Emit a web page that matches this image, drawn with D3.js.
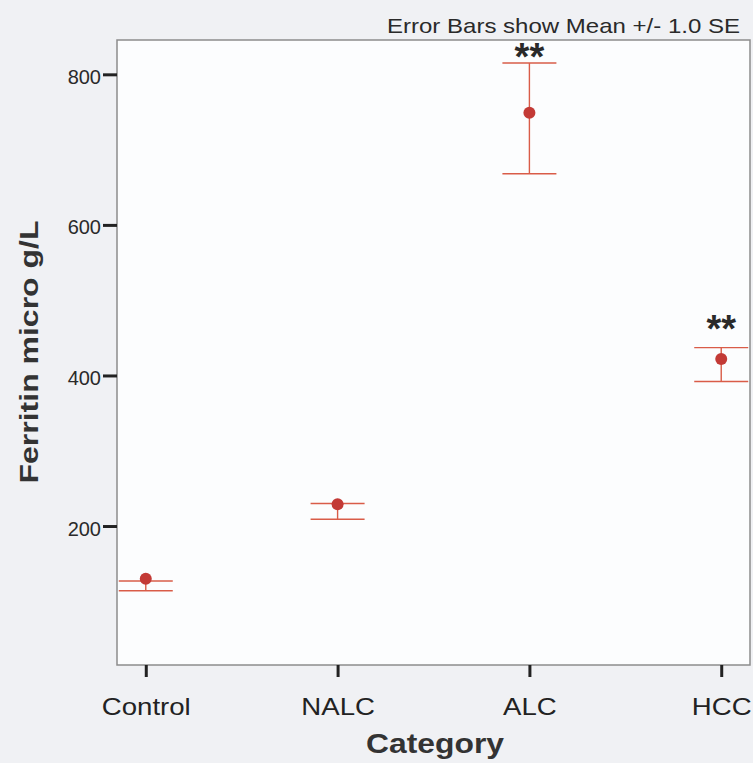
<!DOCTYPE html>
<html>
<head>
<meta charset="utf-8">
<script src="https://cdn.jsdelivr.net/npm/d3@7"></script>
<style>
  html, body { margin: 0; padding: 0; background: #f0f1f4; }
  svg { display: block; }
</style>
</head>
<body>
<svg id="chart" width="753" height="763"></svg>
<script>
// values
var categories = ["Control", "NALC", "ALC", "HCC"];
var means = [130, 229, 749, 422];
var upper = [127, 230, 815, 437];
var lower = [114, 209, 668, 392];
var marks = ["", "", "**", "**"];
var yTicks = [200, 400, 600, 800];

var svg = d3.select("#chart");
var W = 753, H = 763;
var margin = {top: 40, right: 3, bottom: 98, left: 117};
var width = W - margin.left - margin.right;
var height = H - margin.top - margin.bottom;

var font = "'Liberation Sans', Arial, Helvetica, sans-serif";

var x = d3.scalePoint().domain(categories).range([0, width]).padding(0.15);
var y = d3.scaleLinear().domain([15.4, 845.6]).range([height, 0]);

var g = svg.append("g").attr("transform", "translate(" + margin.left + "," + margin.top + ")");

// plot background + frame
g.append("rect")
    .attr("width", width).attr("height", height)
    .attr("fill", "#fcfdfe")
    .attr("stroke", "#8c8c8c")
    .attr("stroke-width", 1.5);

// y axis
var yAxis = g.append("g")
    .call(d3.axisLeft(y).tickValues(yTicks).tickSize(14).tickPadding(2));
yAxis.select(".domain").remove();
yAxis.selectAll(".tick line").attr("stroke", "#222").attr("stroke-width", 3);
yAxis.selectAll(".tick text")
    .attr("font-family", font).attr("font-size", 20)
    .attr("fill", "#2a2a2a").attr("dy", "0.45em");

// x axis
var xAxis = g.append("g")
    .attr("transform", "translate(0," + height + ")")
    .call(d3.axisBottom(x).tickSize(12));
xAxis.select(".domain").remove();
xAxis.selectAll(".tick line").attr("stroke", "#222").attr("stroke-width", 3);
xAxis.selectAll(".tick text")
    .attr("font-family", font).attr("font-size", 23)
    .attr("fill", "#222")
    .attr("y", 34).attr("dy", "0.71em")
    .attr("transform", "scale(1.2,1)");

// error bars
var cap = 27;
var bars = g.selectAll(".ebar").data(categories).enter().append("g").attr("class", "ebar");
bars.append("line")
    .attr("x1", function(d) { return x(d); }).attr("x2", function(d) { return x(d); })
    .attr("y1", function(d, i) { return y(upper[i]); })
    .attr("y2", function(d, i) { return y(lower[i]); });
bars.append("line")
    .attr("x1", function(d) { return x(d) - cap; }).attr("x2", function(d) { return x(d) + cap; })
    .attr("y1", function(d, i) { return y(upper[i]); })
    .attr("y2", function(d, i) { return y(upper[i]); });
bars.append("line")
    .attr("x1", function(d) { return x(d) - cap; }).attr("x2", function(d) { return x(d) + cap; })
    .attr("y1", function(d, i) { return y(lower[i]); })
    .attr("y2", function(d, i) { return y(lower[i]); });
bars.selectAll("line").attr("stroke", "#d95c48").attr("stroke-width", 1.4);

// mean points
g.selectAll(".dot").data(categories).enter().append("circle")
    .attr("class", "dot")
    .attr("cx", function(d) { return x(d); })
    .attr("cy", function(d, i) { return y(means[i]); })
    .attr("r", 6)
    .attr("fill", "#c33a36");

// significance marks
g.selectAll(".sig").data(categories).enter().append("text")
    .attr("class", "sig")
    .attr("x", function(d) { return x(d); })
    .attr("y", function(d, i) {
        var cy = Math.max(y(upper[i]) - 24, 12);
        return cy + 18;
    })
    .attr("text-anchor", "middle")
    .attr("font-family", font).attr("font-weight", "bold")
    .attr("font-size", 38)
    .attr("fill", "#2a2a2a")
    .text(function(d, i) { return marks[i]; });

// titles
svg.append("text")
    .attr("x", 740).attr("y", 33)
    .attr("text-anchor", "end")
    .attr("font-family", font).attr("font-size", 21)
    .attr("fill", "#2a2a2a")
    .attr("textLength", 353).attr("lengthAdjust", "spacingAndGlyphs")
    .text("Error Bars show Mean +/- 1.0 SE");

svg.append("text")
    .attr("transform", "translate(38,352) rotate(-90)")
    .attr("text-anchor", "middle")
    .attr("font-family", font).attr("font-weight", "bold").attr("font-size", 25)
    .attr("fill", "#333")
    .attr("textLength", 263).attr("lengthAdjust", "spacingAndGlyphs")
    .text("Ferritin micro g/L");

svg.append("text")
    .attr("x", 435).attr("y", 753)
    .attr("text-anchor", "middle")
    .attr("font-family", font).attr("font-weight", "bold").attr("font-size", 27)
    .attr("fill", "#333")
    .attr("textLength", 138).attr("lengthAdjust", "spacingAndGlyphs")
    .text("Category");
</script>
</body>
</html>
